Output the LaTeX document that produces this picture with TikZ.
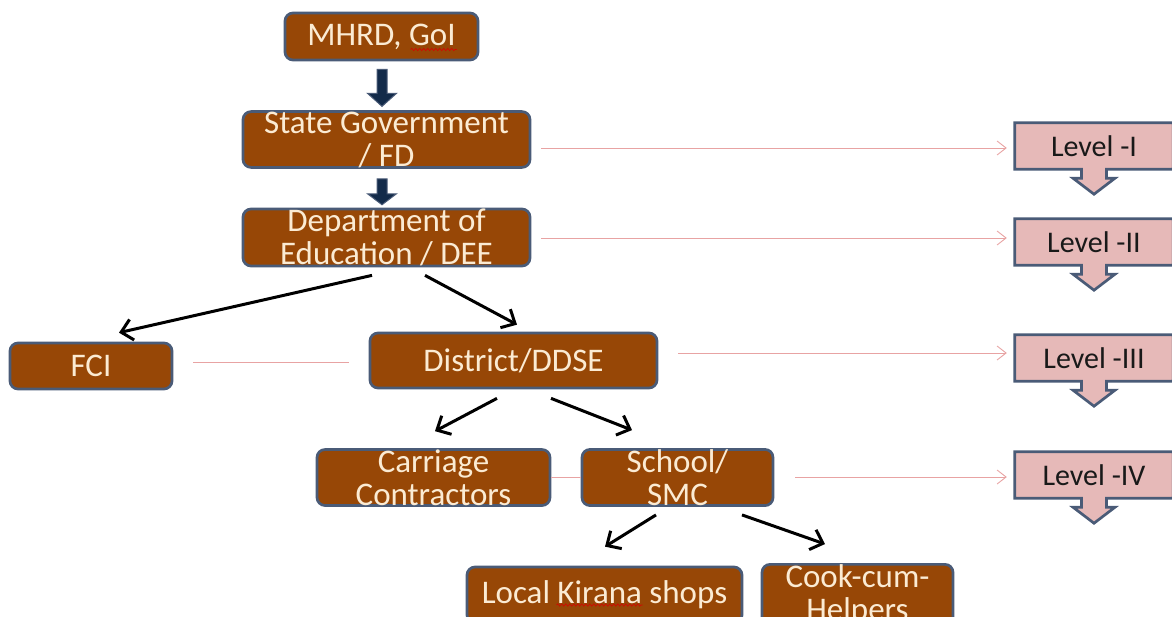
\documentclass[tikz,border=0pt]{standalone}
\usepackage{fontspec}
\setmainfont{Carlito}
\usetikzlibrary{arrows.meta,calc,backgrounds,decorations.pathmorphing}
\definecolor{boxfill}{HTML}{974706}
\definecolor{boxline}{HTML}{4A5B77}
\definecolor{boxtext}{HTML}{FBEBD3}
\definecolor{lvlfill}{HTML}{E6B9B8}
\definecolor{pinkline}{HTML}{E8A3A3}
\definecolor{navyfill}{HTML}{132B4A}
\newcommand\lvlcallout[1]{%
  \draw[lvlshape] (#1.north west) -- (#1.north east) -- (#1.south east)
    -- ([xshift=12.5pt]#1.south) -- ++(0,9) -- ++(8.5,0) -- ([yshift=-25pt]#1.south)
    -- ++(-21,-16) -- ++(8.5,0) -- ++(0,-9) -- (#1.south west) -- cycle;}
\newcommand\blockarr[3]{%
  \draw[blockarrow] #1 ++(-5,0) -- ++(10,0) -- ++(0,#2) -- ++(9.5,0)
    -- ++(-14.5,#3) -- ++(-14.5,-#3) -- ++(9.5,0) -- cycle;}
\begin{document}
\begin{tikzpicture}[x=1pt,y=-1pt,
  orgbox/.style={draw=boxline, line width=2.7pt, fill=boxfill, rounded corners=8pt,
    text=boxtext, align=center, font=\fontsize{33}{33}\selectfont, inner sep=0pt},
  lvlnode/.style={minimum width=158pt, minimum height=46pt, inner sep=0pt,
    font=\fontsize{30}{32}\selectfont, text=black!90},
  lvlshape/.style={draw=boxline, line width=2.7pt, fill=lvlfill, line join=miter},
  flow/.style={line width=3pt, -{Straight Barb[length=11pt,width=21pt]}},
  pinkarrow/.style={draw=pinkline, line width=0.9pt, -{Straight Barb[length=9pt,width=14pt,line width=0.9pt]}},
  pinkrule/.style={draw=pinkline, line width=0.9pt},
  blockarrow/.style={fill=navyfill, draw=boxline, line width=1pt},
  spellwave/.style={draw=red!85!black, line width=0.6pt, decorate,
    decoration={snake, segment length=4pt, amplitude=1.1pt}}
]
\useasboundingbox (0,0) rectangle (1172,616);

% organisation boxes
\node[orgbox, minimum width=193pt, minimum height=47pt] (mhrd) at (381.5,36.5) {MHRD, GoI};
\node[orgbox, minimum width=287pt, minimum height=55pt] (state) at (386.5,139.5) {State Government\\/ FD};
\node[orgbox, minimum width=287pt, minimum height=55pt] (dept) at (386.5,237.5) {Department of\\Education / DEE};
\node[orgbox, minimum width=162pt, minimum height=46pt] (fci) at (91,366) {FCI};
\node[orgbox, minimum width=287pt, minimum height=55pt] (district) at (513.5,360.5) {District/DDSE};
\node[orgbox, minimum width=233pt, minimum height=55pt] (carriage) at (433.5,477.5) {Carriage\\Contractors};
\node[orgbox, minimum width=191pt, minimum height=55pt] (school) at (677.5,477.5) {School/\\SMC};
\node[orgbox, minimum width=275pt, minimum height=56pt] (kirana) at (604.5,595) {Local Kirana shops};
\node[orgbox, minimum width=191pt, minimum height=56pt] (cook) at (857.5,595) {Cook-cum-\\Helpers};

% spell-check underlines
\draw[spellwave] ($(mhrd.center)+(29,13)$) -- ++(46,0);
\draw[spellwave] ($(kirana.center)+(-48,10)$) -- ++(86,0);

% level callouts
\node[lvlnode] (l1) at (1094,146) {Level -I};
\node[lvlnode] (l2) at (1094,242) {Level -II};
\node[lvlnode] (l3) at (1094,358) {Level -III};
\node[lvlnode] (l4) at (1094,475) {Level -IV};
\begin{scope}[on background layer]
  \lvlcallout{l1}
  \lvlcallout{l2}
  \lvlcallout{l3}
  \lvlcallout{l4}
\end{scope}

% block arrows
\blockarr{($(mhrd.south)+(0.5,8)$)}{24}{13}
\blockarr{($(state.south)+(-4.5,10)$)}{15}{11}

% flow arrows
\draw[flow] ($(dept.south)+(-14.5,8)$) -- ($(fci.north)+(28,-9)$);
\draw[flow] ($(dept.south)+(38.5,8)$) -- ($(district.north)+(3.5,-7)$);
\draw[flow] ($(district.south)+(-16.5,9)$) -- ($(carriage.north)+(1.5,-17)$);
\draw[flow] ($(district.south)+(37.5,9)$) -- ($(school.north)+(-45.5,-18)$);
\draw[flow] ($(school.south)+(-21.5,8)$) -- ($(kirana.north)+(0.5,-19)$);
\draw[flow] ($(school.south)+(64.5,8)$) -- ($(cook.north)+(-32.5,-19)$);

% pink connectors
\draw[pinkarrow] ($(l1.west -| state.east)+(10,2)$) -- ($(l1.west)+(-8,2)$);
\draw[pinkarrow] ($(l2.west -| dept.east)+(10,-4)$) -- ($(l2.west)+(-8,-4)$);
\draw[pinkarrow] ($(l3.west -| district.east)+(20,-5)$) -- ($(l3.west)+(-8,-5)$);
\draw[pinkarrow] ($(l4.west -| school.east)+(21,2)$) -- ($(l4.west)+(-8,2)$);
\draw[pinkrule] ($(fci.east)+(20,-4)$) -- ($(fci.east -| district.west)+(-20,-4)$);
\draw[pinkrule] (carriage) -- (school);
\end{tikzpicture}
\end{document}
